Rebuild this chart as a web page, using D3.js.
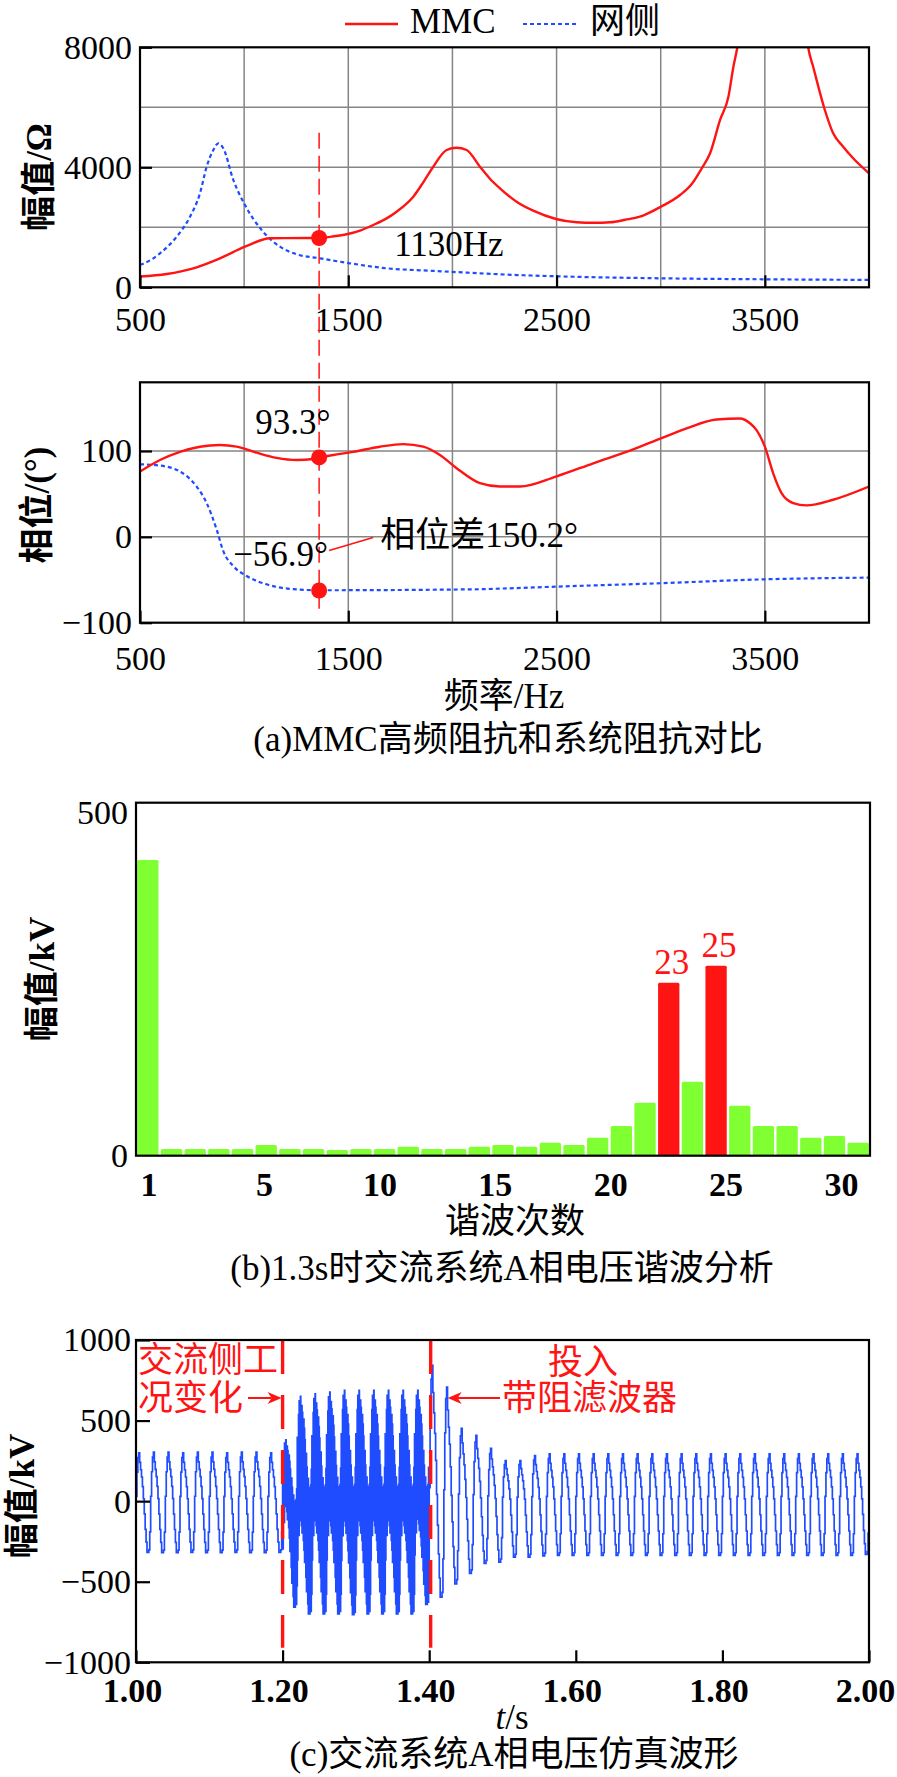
<!DOCTYPE html>
<html>
<head>
<meta charset="utf-8">
<script src="https://cdn.jsdelivr.net/npm/d3@7"></script>
<style>
  body { margin: 0; background: #fff; }
  svg { display: block; background: #fff; }
  text { font-family: "Liberation Serif", "Times New Roman", "Noto Sans CJK SC", serif; }
</style>
</head>
<body>
<div id="chart"></div>
<script>
// ---------- data ----------
// (a) impedance magnitude, Ω
const mmcMagFreq  = [500, 628, 756, 884, 1004, 1124, 1200, 1300, 1360, 1420, 1492, 1560, 1620, 1680, 1732, 1812, 1860, 1908, 1972, 2020, 2068, 2132, 2180, 2228, 2308, 2388, 2497, 2597, 2680, 2757, 2830, 2900, 3001, 3093, 3150, 3197, 3237, 3285, 3325, 3349, 3368, 3400, 3450, 3500, 3550, 3600, 3650, 3690, 3708, 3732, 3788, 3828, 3876, 3924, 4000];
const mmcMagValue = [360, 443, 633, 967, 1353, 1633, 1640, 1643, 1643, 1690, 1767, 1900, 2077, 2280, 2520, 3020, 3500, 4020, 4577, 4653, 4577, 4020, 3620, 3300, 2853, 2553, 2277, 2167, 2150, 2167, 2250, 2353, 2687, 3077, 3450, 3967, 4467, 5577, 6353, 7353, 8000, 9600, 12500, 15000, 16000, 15000, 12000, 9000, 8000, 7353, 5910, 5133, 4687, 4300, 3800];
const gridMagFreq  = [500, 508, 596, 676, 740, 788, 820, 852, 876, 900, 948, 1004, 1084, 1172, 1252, 1364, 1508, 1684, 1892, 2132, 2228, 2497, 2996, 3496, 3971, 4000];
const gridMagValue = [750, 767, 1133, 1687, 2353, 3133, 4020, 4577, 4800, 4633, 3577, 2743, 1910, 1353, 1100, 967, 800, 633, 553, 467, 433, 367, 300, 267, 250, 250];

// (a) impedance phase, degrees
const mmcPhFreq  = [500, 596, 692, 788, 884, 964, 1060, 1156, 1252, 1332, 1360, 1428, 1524, 1652, 1764, 1860, 1940, 2020, 2132, 2228, 2324, 2497, 2676, 2868, 3001, 3124, 3268, 3380, 3430, 3460, 3500, 3540, 3580, 3636, 3700, 3828, 4000];
const mmcPhValue = [76, 89.5, 99, 105, 107, 105, 98, 92, 89.5, 90.7, 92.5, 95.3, 99, 105, 108, 105, 95.3, 80, 62.5, 58.6, 58.6, 70.2, 85.7, 101.9, 114.7, 126.3, 136.7, 137.8, 132, 124.3, 105, 74, 51, 39.4, 36.6, 43.2, 58.6];
const gridPhFreq  = [500, 596, 692, 772, 820, 868, 900, 948, 1012, 1108, 1236, 1364, 2132, 2228, 2497, 3001, 3496, 4000];
const gridPhValue = [84.5, 83, 76, 58.6, 39.4, 8.5, -16.7, -34, -45.6, -55.3, -61, -62.2, -61, -60.3, -58, -54, -49.5, -47.5];

// marked operating point
const markFreq = 1360;
const markMag = 1643;
const markPhMMC = 92.5;
const markPhGrid = -62.5;

// (b) harmonic spectrum, kV
const harmOrders = d3.range(1, 32);
const harmAmp = [418.8, 9.5, 9.5, 9.5, 9.5, 15.2, 9.5, 9.5, 8, 9.5, 9.5, 12.8, 9.5, 9.5, 12.8, 15.2, 12.8, 18.4, 15.2, 25.5, 42, 75, 245, 104.8, 269, 70.8, 42, 42, 25.5, 27.9, 18.4];
const harmHighlight = [23, 25];
const harmTickPos = [0, 5, 10, 15, 20, 25, 30];
const harmTickLabels = ["1", "5", "10", "15", "20", "25", "30"];

// (c) phase-A voltage, kV: one 20 ms cycle per entry
const stairShape = [0.1, 0.6, 0.9, 1.0, 0.8, 0.65, 0.5, 0.3, 0.05, -0.25, -0.55, -0.8, -1.0, -1.0, -0.95, -0.6];
const cyclePeak = [300, 304, 304, 300, 304, 304, 300, 304, 304, 300,
                   380, 650, 666, 676, 687, 687, 687, 687, 687, 687,
                   842, 707, 451, 408, 327, 252, 252, 283, 294, 294,
                   294, 294, 294, 294, 294, 294, 294, 294, 294, 294,
                   294, 294, 294, 294, 294, 294, 294, 294, 294, 294];
const cycleTrough = [-318, -320, -320, -318, -320, -320, -318, -320, -320, -318,
                     -657, -699, -699, -699, -705, -699, -699, -699, -699, -640,
                     -596, -513, -449, -387, -378, -347, -347, -340, -337, -337,
                     -337, -337, -337, -337, -337, -337, -337, -337, -337, -337,
                     -337, -337, -337, -337, -337, -337, -337, -337, -337, -330];
const rippleKv = [0, 0, 0, 0, 0, 0, 0, 0, 0, 0,
                  300, 390, 390, 390, 390, 390, 390, 390, 390, 390,
                  0, 0, 0, 0, 0, 0, 0, 0, 0, 0,
                  0, 0, 0, 0, 0, 0, 0, 0, 0, 0,
                  0, 0, 0, 0, 0, 0, 0, 0, 0, 0];
const eventTimes = [1.2, 1.402];

const freqTicks = [500, 1500, 2500, 3500];
const freqGrid = [1000, 1500, 2000, 2500, 3000, 3500];
const magTicks = [0, 4000, 8000];
const magGrid = [2000, 4000, 6000];
const phaseTicks = [-100, 0, 100];
const phaseGrid = [0, 100];
const harmYTicks = [0, 500];
const timeTicks = [1.0, 1.2, 1.4, 1.6, 1.8, 2.0];
const voltTicks = [-1000, -500, 0, 500, 1000];

// ---------- setup ----------
const RED = "#ff1414", BLUE = "#1f4cff", GREEN = "#80ff33", GRID = "#858585";
const FS = 35, TFS = 34;
const fmtInt = d => d < 0 ? "−" + Math.abs(d) : String(d);

const svg = d3.select("#chart").append("svg")
  .attr("width", 897)
  .attr("height", 1777);

function frame(x0, x1, y0, y1) {
  svg.append("rect")
    .attr("x", x0).attr("y", y0)
    .attr("width", x1 - x0).attr("height", y1 - y0)
    .attr("fill", "none").attr("stroke", "#000").attr("stroke-width", 2.2);
}

function clip(id, x0, x1, y0, y1) {
  svg.append("clipPath").attr("id", id)
    .append("rect").attr("x", x0).attr("y", y0).attr("width", x1 - x0).attr("height", y1 - y0);
}

function styleAxis(g, weight) {
  g.select(".domain").remove();
  g.selectAll(".tick line").attr("stroke", "#000").attr("stroke-width", 2.2);
  g.selectAll(".tick text")
    .attr("fill", "#000")
    .attr("font-family", '"Liberation Serif", "Times New Roman", serif')
    .attr("font-size", TFS)
    .attr("font-weight", weight || "normal");
}

function label(x, y, txt, opts) {
  opts = opts || {};
  return svg.append("text")
    .attr("x", x).attr("y", y)
    .attr("font-size", opts.size || FS)
    .attr("font-weight", opts.weight || "normal")
    .attr("text-anchor", opts.anchor || "start")
    .attr("fill", opts.color || "#000")
    .text(txt);
}

function yTitle(x, y, txt) {
  svg.append("text")
    .attr("transform", `translate(${x},${y}) rotate(-90)`)
    .attr("text-anchor", "middle")
    .attr("dominant-baseline", "central")
    .attr("font-size", FS)
    .attr("font-weight", "bold")
    .attr("fill", "#000")
    .text(txt);
}

// ---------- (a) top: magnitude ----------
const xF = d3.scaleLinear().domain([500, 4000]).range([140, 869]);
const yMag = d3.scaleLinear().domain([0, 8000]).range([287.3, 47.3]);
const yPh = d3.scaleLinear().domain([-100, 180]).range([622.7, 382.3]);

clip("clipMag", 140, 869, 47.3, 287.3);
clip("clipPh", 140, 869, 382.3, 622.7);

const gMagGrid = svg.append("g");
gMagGrid.selectAll("line.v").data(freqGrid).enter().append("line")
  .attr("x1", d => xF(d)).attr("x2", d => xF(d))
  .attr("y1", yMag(8000)).attr("y2", yMag(0))
  .attr("stroke", GRID).attr("stroke-width", 1.5);
gMagGrid.selectAll("line.h").data(magGrid).enter().append("line")
  .attr("x1", xF(500)).attr("x2", xF(4000))
  .attr("y1", d => yMag(d)).attr("y2", d => yMag(d))
  .attr("stroke", GRID).attr("stroke-width", 1.5);

const magLine = d3.line().curve(d3.curveMonotoneX);
svg.append("path")
  .datum(gridMagFreq.map((f, i) => [xF(f), yMag(gridMagValue[i])]))
  .attr("d", magLine)
  .attr("clip-path", "url(#clipMag)")
  .attr("fill", "none").attr("stroke", BLUE).attr("stroke-width", 2.2)
  .attr("stroke-dasharray", "4,3");
svg.append("path")
  .datum(mmcMagFreq.map((f, i) => [xF(f), yMag(mmcMagValue[i])]))
  .attr("d", magLine)
  .attr("clip-path", "url(#clipMag)")
  .attr("fill", "none").attr("stroke", RED).attr("stroke-width", 2.4);

frame(140, 869, 47.3, 287.3);

svg.append("g")
  .attr("transform", `translate(0,${yMag(0)})`)
  .call(d3.axisBottom(xF).tickValues(freqTicks).tickFormat(fmtInt).tickSizeInner(-12).tickSizeOuter(0).tickPadding(19.6))
  .call(g => styleAxis(g));
svg.append("g")
  .attr("transform", `translate(${xF(500)},0)`)
  .call(d3.axisLeft(yMag).tickValues(magTicks).tickFormat(fmtInt).tickSizeInner(-12).tickSizeOuter(0).tickPadding(8))
  .call(g => styleAxis(g));

yTitle(39, 177, "幅值/Ω");

// legend
svg.append("line").attr("x1", 345).attr("x2", 398).attr("y1", 24).attr("y2", 24)
  .attr("stroke", RED).attr("stroke-width", 2.6);
label(410, 33, "MMC");
svg.append("line").attr("x1", 523).attr("x2", 577).attr("y1", 24).attr("y2", 24)
  .attr("stroke", BLUE).attr("stroke-width", 2.2).attr("stroke-dasharray", "4,3");
label(590, 33, "网侧");

// ---------- (a) bottom: phase ----------
const gPhGrid = svg.append("g");
gPhGrid.selectAll("line.v").data(freqGrid).enter().append("line")
  .attr("x1", d => xF(d)).attr("x2", d => xF(d))
  .attr("y1", yPh(180)).attr("y2", yPh(-100))
  .attr("stroke", GRID).attr("stroke-width", 1.5);
gPhGrid.selectAll("line.h").data(phaseGrid).enter().append("line")
  .attr("x1", xF(500)).attr("x2", xF(4000))
  .attr("y1", d => yPh(d)).attr("y2", d => yPh(d))
  .attr("stroke", GRID).attr("stroke-width", 1.5);

svg.append("path")
  .datum(gridPhFreq.map((f, i) => [xF(f), yPh(gridPhValue[i])]))
  .attr("d", magLine)
  .attr("clip-path", "url(#clipPh)")
  .attr("fill", "none").attr("stroke", BLUE).attr("stroke-width", 2.2)
  .attr("stroke-dasharray", "4,3");
svg.append("path")
  .datum(mmcPhFreq.map((f, i) => [xF(f), yPh(mmcPhValue[i])]))
  .attr("d", magLine)
  .attr("clip-path", "url(#clipPh)")
  .attr("fill", "none").attr("stroke", RED).attr("stroke-width", 2.4);

frame(140, 869, 382.3, 622.7);

svg.append("g")
  .attr("transform", `translate(0,${yPh(-100)})`)
  .call(d3.axisBottom(xF).tickValues(freqTicks).tickFormat(fmtInt).tickSizeInner(-12).tickSizeOuter(0).tickPadding(23.2))
  .call(g => styleAxis(g));
svg.append("g")
  .attr("transform", `translate(${xF(500)},0)`)
  .call(d3.axisLeft(yPh).tickValues(phaseTicks).tickFormat(fmtInt).tickSizeInner(-12).tickSizeOuter(0).tickPadding(8))
  .call(g => styleAxis(g));

yTitle(37, 505, "相位/(°)");
label(504, 708, "频率/Hz", { anchor: "middle" });
label(508, 751, "(a)MMC高频阻抗和系统阻抗对比", { anchor: "middle" });

// marker line across both plots + markers
const mx = xF(markFreq);
svg.append("line")
  .attr("x1", mx).attr("x2", mx)
  .attr("y1", yMag(5150)).attr("y2", yPh(-88))
  .attr("stroke", RED).attr("stroke-width", 1.5).attr("stroke-dasharray", "16,7");
svg.append("circle").attr("cx", mx).attr("cy", yMag(markMag)).attr("r", 8).attr("fill", RED);
svg.append("circle").attr("cx", mx).attr("cy", yPh(markPhMMC)).attr("r", 8).attr("fill", RED);
svg.append("circle").attr("cx", mx).attr("cy", yPh(markPhGrid)).attr("r", 8).attr("fill", RED);

label(mx + 75, yMag(markMag) + 18, "1130Hz");
label(mx - 64, yPh(markPhMMC) - 23, "93.3°");
label(mx - 86, yPh(markPhGrid) - 25, "−56.9°");
svg.append("line")
  .attr("x1", mx + 10).attr("y1", yPh(markPhGrid) - 40)
  .attr("x2", mx + 54).attr("y2", yPh(markPhGrid) - 53)
  .attr("stroke", RED).attr("stroke-width", 1.6);
label(mx + 61, yPh(markPhGrid) - 44, "相位差150.2°");

// ---------- (b) harmonic spectrum ----------
const xB = d3.scaleBand().domain(harmOrders).range([136, 870]).paddingInner(0.1).paddingOuter(0.05);
const xBTick = d3.scaleLinear().domain([0, 30]).range([148.6, 841]);
const yB = d3.scaleLinear().domain([0, 500]).range([1155.7, 802.7]);

svg.selectAll(".bar")
  .data(harmOrders)
  .enter()
  .append("rect")
  .attr("class", "bar")
  .attr("x", d => xB(d))
  .attr("y", (d, i) => yB(harmAmp[i]))
  .attr("width", xB.bandwidth())
  .attr("height", (d, i) => yB(0) - yB(harmAmp[i]))
  .attr("rx", 1.5)
  .attr("fill", d => harmHighlight.includes(d) ? RED : GREEN);

harmHighlight.forEach(h => {
  label(xB(h) + xB.bandwidth() / 2 + 3, yB(harmAmp[h - 1]) - 9, String(h), { anchor: "middle", color: RED });
});

frame(136, 870, 802.7, 1155.7);

svg.append("g")
  .attr("transform", `translate(0,${yB(0)})`)
  .call(d3.axisBottom(xBTick).tickValues(harmTickPos).tickFormat((d, i) => harmTickLabels[i]).tickSize(0).tickPadding(16.2))
  .call(g => styleAxis(g, "bold"));
svg.append("g")
  .attr("transform", `translate(136,0)`)
  .call(d3.axisLeft(yB).tickValues(harmYTicks).tickFormat(fmtInt).tickSize(0).tickPadding(8))
  .call(g => styleAxis(g))
  .call(g => g.selectAll(".tick text").filter(d => d === 500).attr("dy", "0.6em"));

yTitle(42, 979, "幅值/kV");
label(515, 1233, "谐波次数", { anchor: "middle" });
label(502, 1280, "(b)1.3s时交流系统A相电压谐波分析", { anchor: "middle" });

// ---------- (c) voltage waveform ----------
const xT = d3.scaleLinear().domain([1, 2]).range([136, 869]);
const yV = d3.scaleLinear().domain([-1000, 1000]).range([1662.3, 1340]);
clip("clipV", 136, 869, 1340, 1662.3);

const wavePts = [];
cyclePeak.forEach((pk, c) => {
  const tr = cycleTrough[c], rip = rippleKv[c];
  const n = rip > 0 ? 46 : stairShape.length;
  const raw = d3.range(n).map(j =>
    stairShape[Math.floor(j * stairShape.length / n)] * 300 + (rip > 0 ? (j % 2 ? -rip : rip) : 0));
  const hi = d3.max(raw), lo = d3.min(raw);
  raw.forEach((r, j) => {
    wavePts.push([1 + (c + j / n) * 0.02, r >= 0 ? r / hi * pk : r / lo * tr]);
  });
});
wavePts.push([2.0, wavePts[0][1]]);

svg.append("path")
  .datum(wavePts)
  .attr("d", d3.line().x(d => xT(d[0])).y(d => yV(d[1])).curve(d3.curveStepAfter))
  .attr("clip-path", "url(#clipV)")
  .attr("fill", "none").attr("stroke", BLUE).attr("stroke-width", 1.7);

svg.selectAll(".event")
  .data(eventTimes)
  .enter()
  .append("line")
  .attr("class", "event")
  .attr("x1", d => xT(d)).attr("x2", d => xT(d))
  .attr("y1", yV(1000)).attr("y2", yV(-910))
  .attr("stroke", RED).attr("stroke-width", 3.4).attr("stroke-dasharray", "34,21");

frame(136, 869, 1340, 1662.3);

svg.append("g")
  .attr("transform", `translate(0,${yV(-1000)})`)
  .call(d3.axisBottom(xT).tickValues(timeTicks).tickFormat(d3.format(".2f")).tickSizeInner(-12).tickSizeOuter(0).tickPadding(15.6))
  .call(g => styleAxis(g, "bold"))
  .call(g => g.selectAll(".tick text").attr("dx", -4));
svg.append("g")
  .attr("transform", `translate(136,0)`)
  .call(d3.axisLeft(yV).tickValues(voltTicks).tickFormat(fmtInt).tickSizeInner(-14).tickSizeOuter(0).tickPadding(5))
  .call(g => styleAxis(g));

yTitle(22, 1496, "幅值/kV");

const tLabel = svg.append("text").attr("x", 512).attr("y", 1729)
  .attr("text-anchor", "middle").attr("font-size", FS).attr("fill", "#000");
tLabel.append("tspan").attr("font-style", "italic").text("t");
tLabel.append("tspan").text("/s");
label(514, 1766, "(c)交流系统A相电压仿真波形", { anchor: "middle" });

// annotations
label(138, 1372, "交流侧工", { color: RED });
label(138, 1410, "况变化", { color: RED });
label(548, 1374, "投入", { color: RED });
label(502, 1410, "带阻滤波器", { color: RED });

function arrow(xFrom, xTo, y) {
  const dir = xTo > xFrom ? 1 : -1;
  svg.append("line")
    .attr("x1", xFrom).attr("x2", xTo - dir * 10).attr("y1", y).attr("y2", y)
    .attr("stroke", RED).attr("stroke-width", 2);
  svg.append("path")
    .attr("d", `M${xTo},${y} L${xTo - dir * 14},${y - 6} L${xTo - dir * 10},${y} L${xTo - dir * 14},${y + 6} Z`)
    .attr("fill", RED);
}
arrow(248, xT(eventTimes[0]) - 1, 1398);
arrow(500, xT(eventTimes[1]) + 17, 1398);
</script>
</body>
</html>
